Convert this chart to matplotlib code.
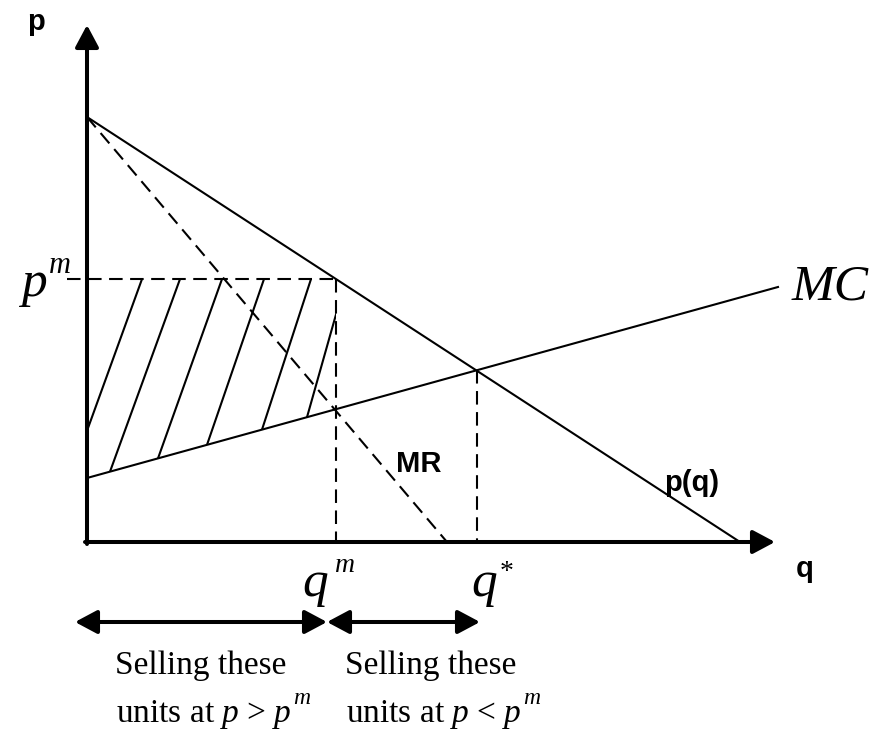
import matplotlib.pyplot as plt
from matplotlib.patches import Polygon

plt.rcParams['mathtext.fontset'] = 'custom'
plt.rcParams['mathtext.rm'] = 'Liberation Serif'
plt.rcParams['mathtext.it'] = 'Liberation Serif:italic'

# monopoly diagram, units chosen so that 1 unit ~ 1 pixel
demand_p0 = 425          # p(q) intercept on the price axis
demand_q0 = 653          # p(q) intercept on the quantity axis
mr_q0 = 360              # MR intercept on the quantity axis
mc_p0 = 64               # MC intercept
mc_end = (691, 255)      # end point of the MC line
q_m = 249
q_star = 390

# hatch strokes: where each stroke meets MC (bottom) and p^m (top)
hatch_bottom_q = [-19, 23, 71, 120, 175, 220]
hatch_top_q = [55, 93, 135, 177, 224, 259]

axis_q_end = 688
axis_p_end = 517


def demand(q):
    return demand_p0 - demand_p0 / demand_q0 * q


def mc(q):
    return mc_p0 + (mc_end[1] - mc_p0) / mc_end[0] * q


p_m = demand(q_m)
p_star = mc(q_star)

fig = plt.figure(figsize=(8.81, 7.31), dpi=100)
ax = fig.add_axes([0, 0, 1, 1])
ax.set_xlim(-87, 794)
ax.set_ylim(-189, 542)
ax.axis('off')

thin = 1.5
dash = (0, (6.5, 3.6))

# axes with arrow heads
axis_style = dict(arrowstyle='-|>,head_length=1.35,head_width=0.72', lw=2.9,
                  color='black', shrinkA=0, shrinkB=0, mutation_scale=10)
ax.annotate('', xy=(axis_q_end, 0), xytext=(-2, 0), arrowprops=axis_style)
ax.annotate('', xy=(0, axis_p_end), xytext=(0, -2), arrowprops=axis_style)

# curves
ax.plot([0, demand_q0], [demand_p0, 0], color='black', lw=thin)
ax.plot([0, mc_end[0]], [mc_p0, mc_end[1]], color='black', lw=thin)
ax.plot([0, mr_q0], [demand_p0, 0], color='black', lw=thin, linestyle=dash)

# dashed guides
ax.plot([-20, q_m], [p_m, p_m], color='black', lw=thin, linestyle=dash)
ax.plot([q_m, q_m], [p_m, 0], color='black', lw=thin, linestyle=dash)
ax.plot([q_star, q_star], [p_star, 0], color='black', lw=thin, linestyle=dash)

# hatched area between p^m and MC
clip = Polygon([(0, mc(0)), (0, p_m), (q_m, p_m), (q_m, mc(q_m))],
               closed=True, transform=ax.transData)
for qb, qt in zip(hatch_bottom_q, hatch_top_q):
    line, = ax.plot([qb, qt], [mc(qb), p_m], color='black', lw=thin)
    line.set_clip_path(clip)

# labels
sans = dict(family='Liberation Sans', weight='bold', fontsize=21)
ax.text(-60, 512, 'p', ha='left', va='baseline', **sans)
ax.text(709, -35, 'q', ha='left', va='baseline', **sans)
ax.text(309, 70, 'MR', ha='left', va='baseline', **sans)
ax.text(577, 51, 'p(q)', ha='left', va='baseline', **sans)

big = dict(family='Liberation Serif', style='italic', ha='left', va='baseline')
ax.text(705, 242, 'MC', fontsize=37, **big)
ax.text(-66, 246, 'p', fontsize=37, **big)
ax.text(-38, 269, 'm', fontsize=22, **big)
ax.text(215, -54, 'q', fontsize=37, **big)
ax.text(248, -30, 'm', fontsize=20, **big)
ax.text(384, -54, 'q', fontsize=37, **big)
ax.text(413, -37, '*', fontsize=20, family='Liberation Serif', ha='left', va='baseline')

# ranges of units below the quantity axis
range_style = dict(arrowstyle='<|-|>,head_length=1.35,head_width=0.72', lw=2.9,
                   color='black', shrinkA=0, shrinkB=0, mutation_scale=10)
ax.annotate('', xy=(-12, -80), xytext=(q_m - 9, -80), arrowprops=range_style)
ax.annotate('', xy=(q_m - 9, -80), xytext=(q_star + 3, -80), arrowprops=range_style)

serif = dict(family='Liberation Serif', fontsize=24, ha='left', va='baseline')
ax.text(28, -132, 'Selling these', **serif)
ax.text(258, -132, 'Selling these', **serif)
for q0, sign in [(29, '>'), (259, '<')]:
    t = ax.text(q0, -180, f'units at $p$ {sign} $p$', **serif)
    ax.annotate('m', xy=(1, 0), xycoords=t, xytext=(1.5, 19.5), textcoords='offset points',
                family='Liberation Serif', style='italic', fontsize=17,
                ha='left', va='baseline')

fig.savefig('out.png', dpi=100)
